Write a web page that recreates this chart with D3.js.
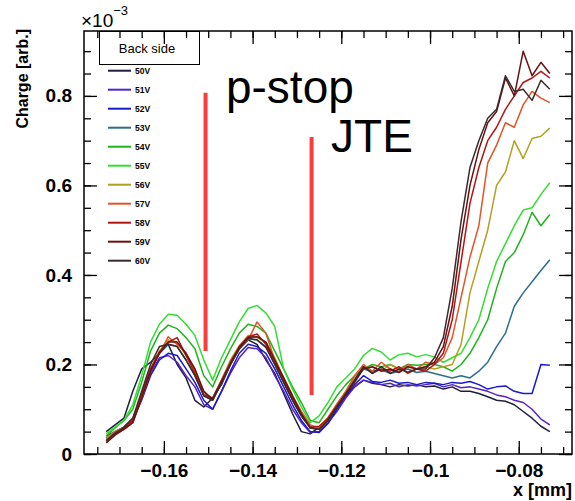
<!DOCTYPE html>
<html>
<head>
<meta charset="utf-8">
<script src="https://cdn.jsdelivr.net/npm/d3@7"></script>
<style>
  body { margin: 0; background: #fff; }
  svg { display: block; font-family: "Liberation Sans", Arial, Helvetica, sans-serif; }
</style>
</head>
<body>
<div id="chart"></div>
<script>
// scan positions [mm]
const positions = [
  -0.173, -0.171, -0.169, -0.167, -0.165, -0.163, -0.161, -0.159, -0.157, -0.155,
  -0.153, -0.151, -0.149, -0.147, -0.145, -0.143, -0.141, -0.139, -0.137, -0.135,
  -0.133, -0.131, -0.129, -0.127, -0.125, -0.123, -0.121, -0.119, -0.117, -0.115,
  -0.113, -0.111, -0.109, -0.107, -0.105, -0.103, -0.101, -0.099, -0.097, -0.095,
  -0.093, -0.091, -0.089, -0.087, -0.085, -0.083, -0.081, -0.079, -0.077, -0.075,
  -0.073
];

// charge (x 1e-3) per bias voltage
const charge50 = [0.050, 0.065, 0.080, 0.140, 0.190, 0.205, 0.225, 0.245, 0.200, 0.170,
  0.120, 0.105, 0.125, 0.155, 0.200, 0.235, 0.255, 0.245, 0.210, 0.180,
  0.135, 0.090, 0.050, 0.045, 0.060, 0.080, 0.105, 0.130, 0.150, 0.165,
  0.158, 0.155, 0.150, 0.155, 0.152, 0.155, 0.150, 0.152, 0.145, 0.150,
  0.140, 0.140, 0.135, 0.128, 0.120, 0.118, 0.110, 0.095, 0.080, 0.062, 0.050];
const charge51 = [0.040, 0.050, 0.060, 0.080, 0.130, 0.180, 0.215, 0.220, 0.205, 0.175,
  0.150, 0.110, 0.100, 0.140, 0.180, 0.215, 0.238, 0.235, 0.215, 0.175,
  0.140, 0.100, 0.070, 0.048, 0.050, 0.070, 0.095, 0.125, 0.150, 0.165,
  0.160, 0.155, 0.158, 0.150, 0.155, 0.152, 0.155, 0.158, 0.150, 0.155,
  0.148, 0.150, 0.145, 0.140, 0.132, 0.128, 0.120, 0.115, 0.100, 0.078, 0.065];
const charge52 = [0.035, 0.050, 0.060, 0.075, 0.120, 0.175, 0.210, 0.225, 0.220, 0.190,
  0.160, 0.120, 0.100, 0.140, 0.185, 0.225, 0.245, 0.240, 0.225, 0.190,
  0.150, 0.110, 0.075, 0.050, 0.048, 0.068, 0.100, 0.130, 0.155, 0.175,
  0.162, 0.160, 0.165, 0.158, 0.160, 0.155, 0.160, 0.158, 0.155, 0.160,
  0.158, 0.162, 0.155, 0.145, 0.150, 0.152, 0.140, 0.135, 0.135, 0.200, 0.198];
const charge53 = [0.035, 0.050, 0.058, 0.072, 0.125, 0.185, 0.225, 0.245, 0.240, 0.210,
  0.175, 0.130, 0.120, 0.160, 0.205, 0.238, 0.258, 0.255, 0.240, 0.200,
  0.160, 0.120, 0.085, 0.060, 0.058, 0.078, 0.105, 0.135, 0.165, 0.190,
  0.185, 0.188, 0.180, 0.185, 0.190, 0.182, 0.185, 0.180, 0.175, 0.170,
  0.175, 0.170, 0.185, 0.205, 0.240, 0.270, 0.330, 0.360, 0.385, 0.410, 0.434];
const charge54 = [0.040, 0.058, 0.075, 0.100, 0.160, 0.230, 0.270, 0.288, 0.280, 0.260,
  0.235, 0.175, 0.150, 0.195, 0.235, 0.270, 0.290, 0.285, 0.270, 0.230,
  0.190, 0.150, 0.115, 0.075, 0.070, 0.100, 0.130, 0.155, 0.175, 0.190,
  0.200, 0.195, 0.200, 0.190, 0.200, 0.198, 0.200, 0.200, 0.195, 0.185,
  0.200, 0.225, 0.260, 0.300, 0.370, 0.430, 0.450, 0.490, 0.540, 0.510, 0.535];
const charge55 = [0.045, 0.060, 0.075, 0.110, 0.175, 0.250, 0.290, 0.312, 0.310, 0.290,
  0.265, 0.210, 0.165, 0.215, 0.255, 0.295, 0.325, 0.332, 0.315, 0.285,
  0.190, 0.145, 0.105, 0.070, 0.085, 0.115, 0.150, 0.170, 0.190, 0.220,
  0.236, 0.228, 0.210, 0.222, 0.225, 0.217, 0.222, 0.217, 0.205, 0.215,
  0.225, 0.260, 0.300, 0.370, 0.430, 0.470, 0.510, 0.545, 0.550, 0.580, 0.606];
const charge56 = [0.035, 0.050, 0.060, 0.075, 0.130, 0.190, 0.230, 0.255, 0.250, 0.220,
  0.190, 0.135, 0.125, 0.165, 0.210, 0.242, 0.265, 0.260, 0.250, 0.215,
  0.170, 0.130, 0.092, 0.062, 0.060, 0.082, 0.110, 0.140, 0.170, 0.190,
  0.195, 0.185, 0.200, 0.190, 0.195, 0.190, 0.195, 0.190, 0.195, 0.200,
  0.245, 0.360, 0.430, 0.500, 0.600, 0.630, 0.700, 0.660, 0.705, 0.710, 0.728];
const charge57 = [0.028, 0.045, 0.055, 0.070, 0.125, 0.185, 0.225, 0.262, 0.245, 0.225,
  0.185, 0.140, 0.120, 0.160, 0.200, 0.235, 0.255, 0.295, 0.270, 0.210,
  0.170, 0.130, 0.095, 0.065, 0.058, 0.080, 0.112, 0.140, 0.175, 0.200,
  0.185, 0.205, 0.190, 0.185, 0.200, 0.190, 0.205, 0.200, 0.215, 0.260,
  0.350, 0.440, 0.510, 0.650, 0.690, 0.740, 0.730, 0.780, 0.810, 0.795, 0.785];
const charge58 = [0.030, 0.048, 0.058, 0.075, 0.135, 0.190, 0.228, 0.250, 0.260, 0.220,
  0.180, 0.132, 0.125, 0.165, 0.205, 0.240, 0.262, 0.268, 0.245, 0.205,
  0.165, 0.125, 0.088, 0.060, 0.062, 0.080, 0.108, 0.135, 0.165, 0.195,
  0.180, 0.190, 0.185, 0.195, 0.180, 0.190, 0.185, 0.200, 0.225, 0.300,
  0.430, 0.560, 0.640, 0.700, 0.730, 0.770, 0.800, 0.830, 0.840, 0.855, 0.840];
const charge59 = [0.025, 0.042, 0.055, 0.070, 0.125, 0.185, 0.225, 0.250, 0.250, 0.225,
  0.190, 0.140, 0.122, 0.160, 0.200, 0.238, 0.260, 0.262, 0.250, 0.210,
  0.170, 0.130, 0.090, 0.058, 0.055, 0.075, 0.105, 0.132, 0.160, 0.190,
  0.195, 0.185, 0.190, 0.182, 0.195, 0.190, 0.195, 0.205, 0.240, 0.330,
  0.480, 0.600, 0.680, 0.740, 0.765, 0.840, 0.800, 0.900, 0.845, 0.875, 0.850];
const charge60 = [0.030, 0.045, 0.060, 0.080, 0.140, 0.200, 0.240, 0.245, 0.240, 0.210,
  0.175, 0.130, 0.120, 0.160, 0.200, 0.235, 0.258, 0.255, 0.238, 0.200,
  0.160, 0.120, 0.085, 0.058, 0.055, 0.075, 0.105, 0.135, 0.165, 0.195,
  0.180, 0.195, 0.180, 0.190, 0.183, 0.190, 0.190, 0.215, 0.260, 0.370,
  0.520, 0.640, 0.700, 0.750, 0.770, 0.845, 0.810, 0.815, 0.790, 0.835, 0.815];

const seriesNames = ["50V", "51V", "52V", "53V", "54V", "55V", "56V", "57V", "58V", "59V", "60V"];
const seriesValues = [charge50, charge51, charge52, charge53, charge54, charge55,
  charge56, charge57, charge58, charge59, charge60];
const seriesColors = ["#1e1e3c", "#5522cc", "#1a1acc", "#2a6e8c", "#1fb31f", "#33dd33",
  "#b3a01f", "#e0552a", "#b31515", "#6a1010", "#3c2a2a"];

// region markers
const markerNames = ["p-stop", "JTE"];
const markerX = [-0.1506, -0.1267];
const markerBottom = [0.230, 0.132];
const markerTop = [0.807, 0.708];
const labelX = [-0.146, -0.1223];
const labelY = [0.784, 0.675];

const xTicks = [-0.16, -0.14, -0.12, -0.1, -0.08];
const xTickLabels = ["\u22120.16", "\u22120.14", "\u22120.12", "\u22120.1", "\u22120.08"];
const yTicks = [0, 0.2, 0.4, 0.6, 0.8];
const yTickLabels = ["0", "0.2", "0.4", "0.6", "0.8"];

const width = 575, height = 501;
const margin = { left: 84, right: 3, top: 31, bottom: 47 };

const svg = d3.select("#chart").append("svg")
  .attr("width", width)
  .attr("height", height);

const x = d3.scaleLinear().domain([-0.178, -0.068]).range([margin.left, width - margin.right]);
const y = d3.scaleLinear().domain([0, 0.945]).range([height - margin.bottom, margin.top]);

const xMinor = d3.range(-0.175, -0.0675, 0.005);
const yMinor = d3.range(0, 0.94, 0.05);

// curves
const line = d3.line().x((d, i) => x(positions[i])).y(d => y(d));
svg.append("g")
  .selectAll("path")
  .data(seriesValues)
  .join("path")
  .attr("d", line)
  .attr("fill", "none")
  .attr("stroke", (d, i) => seriesColors[i])
  .attr("stroke-width", 1.5)
  .attr("stroke-linejoin", "round");

// red region markers
svg.append("g")
  .selectAll("line")
  .data(markerX)
  .join("line")
  .attr("x1", d => x(d))
  .attr("x2", d => x(d))
  .attr("y1", (d, i) => y(markerBottom[i]))
  .attr("y2", (d, i) => y(markerTop[i]))
  .attr("stroke", "#ff3c3c")
  .attr("stroke-width", 4);

svg.append("g")
  .selectAll("text")
  .data(markerNames)
  .join("text")
  .attr("x", (d, i) => x(labelX[i]))
  .attr("y", (d, i) => y(labelY[i]))
  .style("font-size", "46px")
  .text(d => d);

// legend
const legend = svg.append("g");
legend.append("rect")
  .attr("x", 99.5).attr("y", 31.5)
  .attr("width", 100).attr("height", 33)
  .attr("fill", "#fff").attr("stroke", "#000").attr("stroke-width", 1);
legend.append("text")
  .attr("x", 147).attr("y", 53)
  .attr("text-anchor", "middle")
  .style("font-size", "13px")
  .text("Back side");

const entries = legend.selectAll(".entry")
  .data(seriesNames)
  .join("g")
  .attr("class", "entry")
  .attr("transform", (d, i) => `translate(0,${70.7 + 19 * i})`);
entries.append("line")
  .attr("x1", 108).attr("x2", 131)
  .attr("stroke", (d, i) => seriesColors[i])
  .attr("stroke-width", 2);
entries.append("text")
  .attr("x", 135).attr("y", 3)
  .style("font-size", "8.5px")
  .style("font-weight", "bold")
  .text(d => d);

// axes
const axisG = svg.append("g");
function styleAxis(g) {
  g.select(".domain").remove();
  g.selectAll(".tick line").attr("stroke", "#000").attr("stroke-width", 1.3);
  g.selectAll("text").style("font-size", "19px").style("font-weight", "bold").attr("fill", "#000");
}

axisG.append("g")
  .attr("transform", `translate(0,${y(0)})`)
  .call(d3.axisBottom(x).tickValues(xMinor).tickSize(-7).tickFormat(""))
  .call(styleAxis);
axisG.append("g")
  .attr("transform", `translate(0,${y(0)})`)
  .call(d3.axisBottom(x).tickValues(xTicks).tickSize(-13).tickPadding(10)
    .tickFormat((d, i) => xTickLabels[i]))
  .call(styleAxis);
axisG.append("g")
  .attr("transform", `translate(0,${margin.top})`)
  .call(d3.axisTop(x).tickValues(xMinor).tickSize(-7).tickFormat(""))
  .call(styleAxis);
axisG.append("g")
  .attr("transform", `translate(0,${margin.top})`)
  .call(d3.axisTop(x).tickValues(xTicks).tickSize(-13).tickFormat(""))
  .call(styleAxis);

axisG.append("g")
  .attr("transform", `translate(${margin.left},0)`)
  .call(d3.axisLeft(y).tickValues(yMinor).tickSize(-7).tickFormat(""))
  .call(styleAxis);
axisG.append("g")
  .attr("transform", `translate(${margin.left},0)`)
  .call(d3.axisLeft(y).tickValues(yTicks).tickSize(-13).tickPadding(12)
    .tickFormat((d, i) => yTickLabels[i]))
  .call(styleAxis);
axisG.append("g")
  .attr("transform", `translate(${width - margin.right},0)`)
  .call(d3.axisRight(y).tickValues(yMinor).tickSize(-7).tickFormat(""))
  .call(styleAxis);
axisG.append("g")
  .attr("transform", `translate(${width - margin.right},0)`)
  .call(d3.axisRight(y).tickValues(yTicks).tickSize(-13).tickFormat(""))
  .call(styleAxis);

// frame
svg.append("rect")
  .attr("x", margin.left).attr("y", margin.top)
  .attr("width", width - margin.left - margin.right)
  .attr("height", height - margin.top - margin.bottom)
  .attr("fill", "none").attr("stroke", "#000").attr("stroke-width", 1.5);

// exponent
const expo = svg.append("text").attr("x", 81).attr("y", 27).style("font-size", "19px");
expo.append("tspan").text("\u00d710");
expo.append("tspan").attr("dy", -12).style("font-size", "13px").text("\u22123");

// axis titles
svg.append("text")
  .attr("x", width - 3).attr("y", 496)
  .attr("text-anchor", "end")
  .style("font-size", "18px").style("font-weight", "bold")
  .text("x [mm]");
svg.append("text")
  .attr("transform", "translate(28,29) rotate(-90)")
  .attr("text-anchor", "end")
  .style("font-size", "16px").style("font-weight", "bold")
  .text("Charge [arb.]");
</script>
</body>
</html>
